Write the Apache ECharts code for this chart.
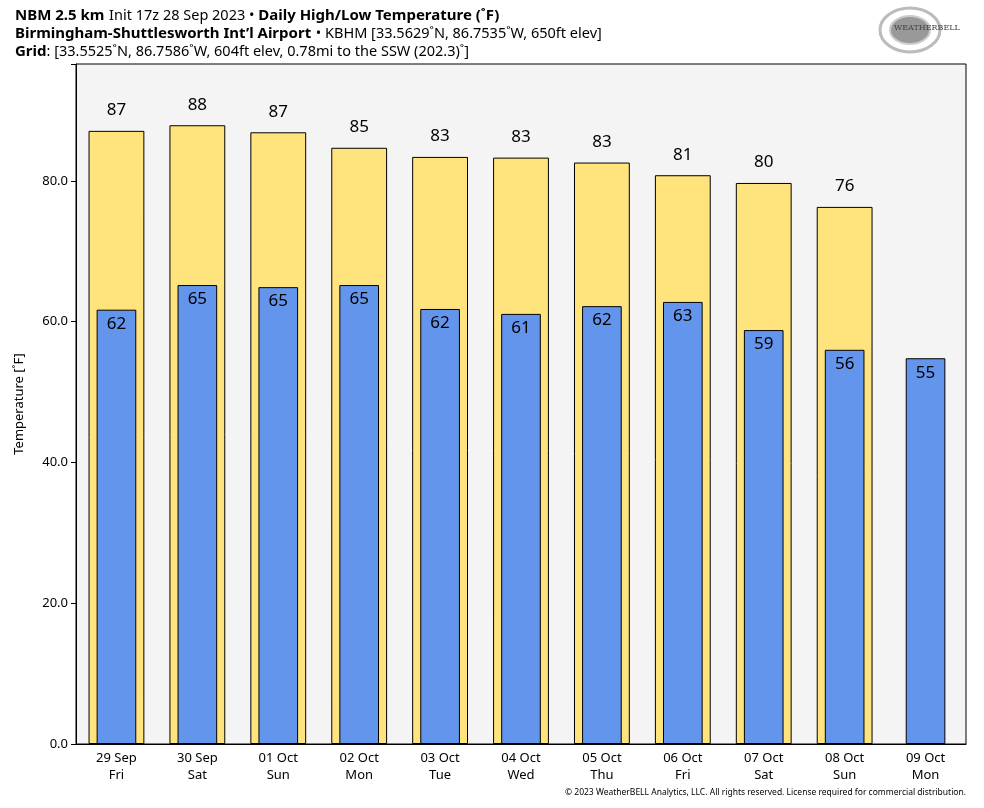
<!DOCTYPE html>
<html><head><meta charset="utf-8">
<script src="https://cdn.jsdelivr.net/npm/echarts@6/dist/echarts.min.js"></script>
<style>html,body{margin:0;padding:0;background:#fff}#c{width:984px;height:808px}</style>
</head><body><div id="c"></div>
<script>
const categories = ['29 Sep\nFri','30 Sep\nSat','01 Oct\nSun','02 Oct\nMon','03 Oct\nTue','04 Oct\nWed','05 Oct\nThu','06 Oct\nFri','07 Oct\nSat','08 Oct\nSun','09 Oct\nMon'];
const highs = [87.1, 87.9, 86.9, 84.7, 83.4, 83.3, 82.6, 80.8, 79.7, 76.3, null];
const lows = [61.7, 65.2, 64.9, 65.2, 61.8, 61.1, 62.2, 62.8, 58.8, 56.0, 54.8];
const yTicks = [0, 20, 40, 60, 80];

const chart = echarts.init(document.getElementById('c'), null, {renderer:'canvas'});
const F = 'Noto Sans';
chart.setOption({
  backgroundColor:'#fff',
  animation:false,
  textStyle:{fontFamily:F},
  title:{
    left:10, top:2,
    text:'{b|NBM 2.5 km} {n|Init 17z 28 Sep 2023 • }{b|Daily High/Low Temperature (˚F)}\n{b|Birmingham-Shuttlesworth Int\u2019l Airport} {n|• KBHM [33.5629˚N, 86.7535˚W, 650ft elev]}\n{b|Grid}{n|: [33.5525˚N, 86.7586˚W, 604ft elev, 0.78mi to the SSW (202.3)˚]}',
    textStyle:{fontWeight:'normal',rich:{
      b:{fontFamily:F,fontSize:15,fontWeight:'bold',color:'#000',lineHeight:17.5},
      n:{fontFamily:F,fontSize:14.5,fontWeight:'normal',color:'#000',lineHeight:17.5}
    }}
  },
  graphic:[
    {type:'rect', shape:{x:76,y:64,width:890,height:680}, style:{fill:'#f4f4f4',stroke:'#000',lineWidth:1}, z:-10, silent:true},
    {type:'ellipse', shape:{cx:910,cy:30,rx:30,ry:22}, style:{fill:'none',stroke:'#bbb',lineWidth:3}},
    {type:'ellipse', shape:{cx:910,cy:30,rx:20,ry:14}, style:{fill:'#999',stroke:'#ccc',lineWidth:2}},
    {type:'text', left:894, top:24, style:{text:'WEATHERBELL',fontSize:8,fontFamily:'DejaVu Serif',fill:'#444'}},
    {type:'text', right:18, top:788, style:{text:'© 2023 WeatherBELL Analytics, LLC. All rights reserved. License required for commercial distribution.',fontSize:8.5,fontFamily:F,fill:'#000'}}
  ],
  grid:{left:76,right:18,top:64,bottom:64},
  xAxis:[
    {type:'category',data:categories,axisTick:{show:false},axisLine:{lineStyle:{color:'#000'}},
     axisLabel:{color:'#000',fontSize:13,lineHeight:17,margin:6,fontFamily:F}},
    {type:'category',data:categories,show:false}
  ],
  yAxis:{type:'value',min:0,max:96.6,interval:20,
    name:'Temperature [˚F]',nameLocation:'middle',nameGap:50,
    nameTextStyle:{color:'#000',fontSize:13,fontFamily:F},
    splitLine:{show:false},axisLine:{show:true,lineStyle:{color:'#000'}},
    axisTick:{show:true,length:5,lineStyle:{color:'#000'}},
    axisLabel:{color:'#000',fontSize:13,fontFamily:F,margin:8,
      formatter:v=>yTicks.includes(v)?v.toFixed(1):''}},
  series:[
    {type:'bar',name:'High',xAxisIndex:0,data:highs,barWidth:'69%',
     itemStyle:{color:'#ffe37d',borderColor:'#000',borderWidth:1},
     label:{show:true,position:'top',distance:12,color:'#000',fontSize:17,fontFamily:F,
       formatter:p=>Math.round(p.value)}},
    {type:'bar',name:'Low',xAxisIndex:1,data:lows,barWidth:'49%',
     itemStyle:{color:'#6495ed',borderColor:'#000',borderWidth:1},
     label:{show:true,position:'insideTop',distance:6,color:'#000',fontSize:17,fontFamily:F,
       formatter:p=>Math.round(p.value)}}
  ]
});
</script></body></html>
